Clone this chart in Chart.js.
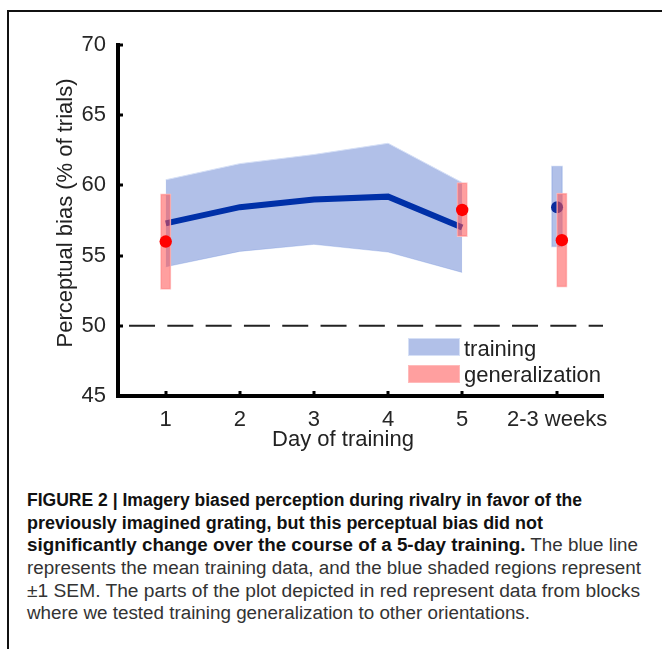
<!DOCTYPE html>
<html>
<head>
<meta charset="utf-8">
<script src="https://cdn.jsdelivr.net/npm/chart.js@4"></script>
<style>
  html, body { margin: 0; padding: 0; background: #fff; width: 662px; height: 649px; overflow: hidden; }
  #frame { position: absolute; left: 7px; top: 10px; width: 700px; height: 700px;
           border-top: 2px solid #111; border-left: 2px solid #111; }
  #wrap { position: absolute; left: 0; top: 0; width: 662px; height: 470px; }
  #caption { position: absolute; left: 27px; top: 489px; white-space: nowrap;
             font-family: "Liberation Sans", Arial, sans-serif;
             font-size: 18px; line-height: 22.7px; color: #333; }
  #caption .ln { display: block; height: 22.7px; transform-origin: 0 0; }
  #caption b { color: #111; }
</style>
</head>
<body>
<div id="frame"></div>
<div id="wrap"><canvas id="c" width="662" height="470"></canvas></div>
<div id="caption"><span class="ln"><b>FIGURE 2 | Imagery biased perception during rivalry in favor of the</b></span><span class="ln"><b>previously imagined grating, but this perceptual bias did not</b></span><span class="ln"><b>significantly change over the course of a 5-day training.</b> The blue line</span><span class="ln">represents the mean training data, and the blue shaded regions represent</span><span class="ln">±1 SEM. The parts of the plot depicted in red represent data from blocks</span><span class="ln">where we tested training generalization to other orientations.</span></div>
<script>
// ---- data ----
const days = [1, 2, 3, 4, 5];
const trainingMean = [57.3, 58.45, 59.0, 59.2, 57.0];
const trainingUpper = [60.4, 61.55, 62.2, 63.0, 60.2];
const trainingLower = [54.2, 55.3, 55.8, 55.25, 53.8];

const followUpX = [6.28];
const followUpMean = [58.45];
const followUpUpper = [61.4];
const followUpLower = [55.6];

const genX = [1, 5, 6.345];
const genMean = [56.0, 58.25, 56.1];
const genUpper = [59.4, 60.2, 59.45];
const genLower = [52.6, 56.35, 52.75];

const chanceLevel = 50;
const xTickValues = [1, 2, 3, 4, 5, 6.28];
const xTickLabels = ['1', '2', '3', '4', '5', '2-3 weeks'];
const yTickValues = [45, 50, 55, 60, 65, 70];
const xRange = [0.356, 6.9];
const yRange = [45, 70];
const xTitle = 'Day of training';
const yTitle = 'Perceptual bias (% of trials)';
const legendLabels = ['training', 'generalization'];

// ---- styles ----
const FONT = '"Liberation Sans", Arial, Helvetica, sans-serif';
const FS = 22;
const bandFill = 'rgba(100,130,210,0.50)';
const bandEdge = 'rgba(214,224,246,1)';
const redFill = 'rgba(255,80,80,0.55)';
const redEdge = 'rgba(255,190,190,0.9)';
const lineBlue = '#0030a8';
const dotBlue = '#0a2d9c';

// caption line widths in the reference (layout only)
const captionWidths = [555, 516, 611, 614, 613, 503];
document.querySelectorAll('#caption .ln').forEach((el, i) => {
  el.style.display = 'inline-block';
  const w = el.getBoundingClientRect().width;
  el.style.display = 'block';
  el.style.transform = 'scaleX(' + (captionWidths[i] / w) + ')';
});

const pts = (xs, ys) => xs.map((x, i) => ({ x, y: ys[i] }));
const rng = (xs, lo, hi) => xs.map((x, i) => ({ x, y: [lo[i], hi[i]] }));

const overlay = {
  id: 'overlay',
  afterDraw(chart) {
    const { ctx, scales: { x, y } } = chart;
    ctx.save();
    ctx.fillStyle = '#000';
    yTickValues.forEach(v => {
      const py = y.getPixelForValue(v);
      ctx.fillRect(x.left, Math.round(py) - 1.5, 5, 3);
    });
    xTickValues.forEach(v => {
      const px = x.getPixelForValue(v);
      ctx.fillRect(Math.round(px) - 1.5, y.bottom - 5, 3, 5);
    });
    ctx.fillStyle = '#222';
    ctx.font = FS + 'px ' + FONT;
    ctx.textAlign = 'center';
    ctx.textBaseline = 'middle';
    ctx.fillText(xTitle, 343, 440);
    ctx.save();
    ctx.translate(66, 213);
    ctx.rotate(-Math.PI / 2);
    ctx.fillText(yTitle, 0, 0);
    ctx.restore();
    const items = [
      { fill: bandFill, edge: bandEdge, label: legendLabels[0], top: 338, base: 355.5 },
      { fill: redFill, edge: redEdge, label: legendLabels[1], top: 365, base: 382 }
    ];
    ctx.textAlign = 'left';
    ctx.textBaseline = 'alphabetic';
    items.forEach(it => {
      ctx.fillStyle = it.fill;
      ctx.fillRect(408, it.top, 52, 18);
      ctx.strokeStyle = it.edge;
      ctx.lineWidth = 1;
      ctx.strokeRect(408.5, it.top + 0.5, 51, 17);
      ctx.fillStyle = '#222';
      ctx.fillText(it.label, 464, it.base);
    });
    ctx.restore();
  }
};

new Chart(document.getElementById('c'), {
  type: 'scatter',
  data: {
    datasets: [
      { type: 'line', label: 'SEM upper', data: pts(days, trainingUpper), fill: '+1',
        backgroundColor: bandFill, borderColor: bandEdge, borderWidth: 1, pointRadius: 0, tension: 0, order: 10 },
      { type: 'line', label: 'SEM lower', data: pts(days, trainingLower), fill: false,
        borderColor: bandEdge, borderWidth: 1, pointRadius: 0, tension: 0, order: 10 },
      { type: 'bar', label: 'follow-up SEM', data: rng(followUpX, followUpLower, followUpUpper),
        backgroundColor: bandFill, borderColor: bandEdge, borderWidth: 1, borderSkipped: false,
        barThickness: 11.5, grouped: false, order: 9 },
      { type: 'line', label: 'chance', data: [{ x: 0.505, y: chanceLevel }, { x: xRange[1], y: chanceLevel }],
        borderColor: '#222', borderWidth: 2, borderDash: [26, 12.3], pointRadius: 0, fill: false, order: 8 },
      { type: 'line', label: 'training mean', data: pts(days, trainingMean),
        borderColor: lineBlue, borderWidth: 6, borderCapStyle: 'butt', borderJoinStyle: 'miter',
        pointRadius: 0, fill: false, tension: 0, order: 7 },
      { type: 'scatter', label: 'follow-up mean', data: pts(followUpX, followUpMean),
        backgroundColor: dotBlue, borderWidth: 0, pointRadius: 6, order: 6 },
      { type: 'bar', label: 'generalization SEM', data: rng(genX, genLower, genUpper),
        backgroundColor: redFill, borderColor: redEdge, borderWidth: 1, borderSkipped: false,
        barThickness: 10.5, grouped: false, order: 5 },
      { type: 'scatter', label: 'generalization mean', data: pts(genX, genMean),
        backgroundColor: '#ff0000', borderWidth: 0, pointRadius: 6.2, order: 4 }
    ]
  },
  options: {
    responsive: false,
    animation: false,
    devicePixelRatio: 1,
    layout: { padding: { left: 0, top: 45, right: 59, bottom: 0 } },
    plugins: { legend: { display: false }, tooltip: { enabled: false } },
    scales: {
      x: {
        type: 'linear', min: xRange[0], max: xRange[1], offset: false,
        afterFit: s => { s.height = 74; },
        afterBuildTicks: s => { s.ticks = xTickValues.map(v => ({ value: v })); },
        ticks: {
          autoSkip: false, maxRotation: 0, padding: 11, color: '#262626',
          font: { family: FONT, size: FS },
          callback: v => { const i = xTickValues.indexOf(v); return i >= 0 ? xTickLabels[i] : ''; }
        },
        grid: { display: false, drawTicks: false },
        border: { display: true, width: 4, color: '#000' }
      },
      y: {
        type: 'linear', min: yRange[0], max: yRange[1],
        afterFit: s => { s.width = 118; },
        afterBuildTicks: s => { s.ticks = yTickValues.map(v => ({ value: v })); },
        ticks: { padding: 12, color: '#262626', font: { family: FONT, size: FS } },
        grid: { display: false, drawTicks: false },
        border: { display: true, width: 4, color: '#000' }
      }
    }
  },
  plugins: [overlay]
});
</script>
</body>
</html>
